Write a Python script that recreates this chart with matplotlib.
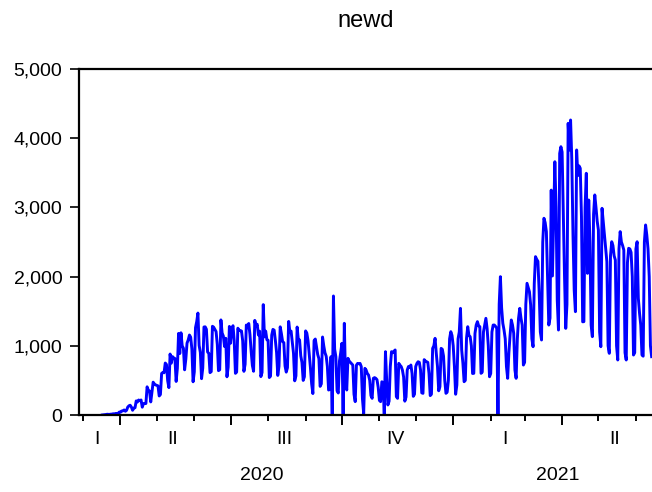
import numpy as np
import matplotlib.pyplot as plt
import matplotlib.dates as mdates
import matplotlib.transforms as mtransforms
from matplotlib.ticker import FuncFormatter

plt.rcParams['font.family'] = ['Liberation Sans', 'DejaVu Sans']

nan = np.nan

# daily new deaths, one row per week (Sun .. Sat), first row starts Sunday 2020-03-01
start = np.datetime64('2020-03-01')

mar_may_2020 = [
    nan, nan, nan, nan, nan, nan, nan,
    nan, nan, nan, nan, nan, nan, nan,
    nan, nan, 1, 3, 4, 7, 11,
    9, 9, 12, 13, 18, 15, 22,
    22, 23, 42, 40, 58, 60, 73,
    54, 67, 114, 133, 141, 115, 68,
    99, 105, 204, 188, 217, 206, 217,
    113, 166, 165, 166, 407, 357, 346,
    189, 338, 474, 449, 435, 428, 421,
    275, 296, 600, 615, 610, 751, 730,
    496, 396, 881, 749, 844, 824, 816,
    485, 674, 1179, 888, 1188, 1001, 965,
    653, 807, 1039, 1086, 1156, 1124, 956,
]
jun_aug_2020 = [
    480, 623, 1262, 1349, 1473, 1005, 904,
    525, 679, 1272, 1274, 1239, 909, 892,
    612, 627, 1282, 1269, 1238, 1206, 1022,
    641, 654, 1374, 1185, 1141, 990, 1109,
    552, 692, 1280, 1038, 1252, 1290, 1071,
    602, 620, 1254, 1223, 1220, 1214, 1071,
    631, 733, 1300, 1261, 1322, 1163, 921,
    716, 632, 1367, 1284, 1311, 1156, 1211,
    555, 614, 1595, 1129, 1212, 1088, 1079,
    541, 561, 1154, 1237, 1226, 1079, 905,
    572, 703, 1274, 1175, 1060, 1045, 709,
    620, 684, 1352, 1204, 1212, 1054, 892,
    494, 565, 1271, 1085, 1086, 855, 758,
]
sep_nov_2020 = [
    500, 553, 1215, 1184, 1075, 874, 682,
    450, 310, 1075, 1098, 983, 874, 814,
    414, 450, 1127, 1000, 900, 850, 700,
    361, 370, 843, 0, 1720, 950, 843,
    350, 318, 780, 900, 1036, 0, 1325,
    500, 361, 819, 780, 760, 740, 722,
    300, 193, 720, 746, 740, 746, 700,
    230, 20, 674, 650, 600, 578, 500,
    280, 241, 530, 540, 530, 510, 400,
    210, 193, 480, 470, 10, 915, 500,
    145, 200, 700, 915, 900, 920, 940,
    265, 241, 746, 720, 700, 650, 550,
    200, 260, 650, 700, 690, 722, 600,
]
dec_2020_feb_2021 = [
    270, 300, 700, 746, 770, 760, 650,
    320, 313, 800, 780, 770, 760, 600,
    280, 300, 963, 1000, 1108, 892, 700,
    350, 409, 963, 950, 850, 500, 313,
    330, 500, 1100, 1204, 1150, 1000, 700,
    300, 433, 1100, 1200, 1541, 940, 750,
    481, 500, 1110, 1276, 1150, 1132, 1000,
    600, 602, 1180, 1300, 1349, 1290, 1276,
    602, 620, 1200, 1300, 1397, 1250, 1000,
    553, 600, 1200, 1300, 1300, 1280, 1252,
    0, 1600, 1999, 1550, 1325, 1228, 1100,
    700, 530, 900, 1156, 1373, 1300, 1180,
    650, 530, 1100, 1397, 1541, 1400, 1300,
]
mar_jun_2021 = [
    722, 760, 1600, 1903, 1840, 1780, 1590,
    1100, 987, 1900, 2288, 2250, 2220, 1800,
    1200, 1084, 2500, 2843, 2780, 2650, 2000,
    1300, 1400, 3250, 2009, 2800, 3660, 3000,
    1656, 1228, 3780, 3877, 3800, 2900, 2000,
    1252, 1600, 4215, 3829, 4263, 3693, 2600,
    1803, 1493, 3830, 3459, 3600, 3565, 2866,
    1347, 1349, 3000, 3493, 2047, 3107, 2500,
    1300, 1132, 2900, 3180, 3000, 2800, 2673,
    1200, 987, 2987, 2800, 2600, 2400, 2215,
    1000, 891, 2300, 2504, 2450, 2300, 2240,
    1000, 795, 2400, 2650, 2500, 2450, 2384,
    900, 795, 2200, 2409, 2400, 2350, 2000,
    867, 900, 2400, 2504, 1686, 1470, 1300,
    867, 850, 2500, 2746, 2600, 2400, 2000,
    1000, 843,
]

newd = np.array(mar_may_2020 + jun_aug_2020 + sep_nov_2020
                + dec_2020_feb_2021 + mar_jun_2021, dtype=float)
days = start + np.arange(len(newd))

quarter_names = ['I', 'II', 'III', 'IV', 'I', 'II']
quarter_starts = ['2020-01-01', '2020-04-01', '2020-07-01', '2020-10-01',
                  '2021-01-01', '2021-04-01']
quarter_ends = ['2020-04-01', '2020-07-01', '2020-10-01', '2021-01-01',
                '2021-04-01', '2021-07-01']
years = ['2020', '2021']
year_starts = ['2020-01-01', '2021-01-01']
year_ends = ['2021-01-01', '2022-01-01']

x_lo = mdates.date2num(np.datetime64('2020-02-26T17:00'))
x_hi = mdates.date2num(np.datetime64('2021-06-30'))

W, H = 652, 492
fig = plt.figure(figsize=(W / 100, H / 100), dpi=100)
# the frame runs past the right edge of the picture, as in the original crop
ax = fig.add_axes([79 / W, 77 / H, (671 - 79) / W, (415 - 69) / H])

ax.plot(days, newd, color='#0000ff', lw=2.1, solid_joinstyle='round')

ax.set_xlim(x_lo, x_hi)
ax.set_ylim(0, 5000)
ax.set_yticks([0, 1000, 2000, 3000, 4000, 5000])
ax.yaxis.set_major_formatter(FuncFormatter(lambda v, p: '{:,.0f}'.format(v)))

ax.xaxis.set_major_locator(mdates.MonthLocator(bymonth=[1, 4, 7, 10]))
ax.xaxis.set_minor_locator(mdates.MonthLocator())
ax.xaxis.set_major_formatter(FuncFormatter(lambda v, p: ''))

for s in ['left', 'top', 'bottom', 'right']:
    ax.spines[s].set_linewidth(1.6)
    ax.spines[s].set_color('black')

ax.tick_params(axis='y', direction='out', length=6.5, width=1.2, pad=5.5,
               labelsize=14)
ax.tick_params(axis='x', which='major', direction='out', length=7, width=1.4)
ax.tick_params(axis='x', which='minor', direction='out', length=4.3, width=1.4)

trans = mtransforms.blended_transform_factory(ax.transData, ax.transAxes)

for name, a, b in zip(quarter_names, quarter_starts, quarter_ends):
    lo = max(mdates.date2num(np.datetime64(a)), x_lo)
    hi = min(mdates.date2num(np.datetime64(b)), x_hi)
    ax.text((lo + hi) / 2 - 2, -0.0694, name, transform=trans, ha='center',
            va='center', fontsize=14, clip_on=False)

for name, a, b in zip(years, year_starts, year_ends):
    lo = max(mdates.date2num(np.datetime64(a)), x_lo)
    hi = min(mdates.date2num(np.datetime64(b)), x_hi)
    ax.text((lo + hi) / 2 - 4, -0.176, name, transform=trans, ha='center',
            va='center', fontsize=14, clip_on=False)

fig.text(366 / W, 1 - 21 / H, 'newd', ha='center', va='center', fontsize=17)

fig.savefig('out.png', dpi=100)
